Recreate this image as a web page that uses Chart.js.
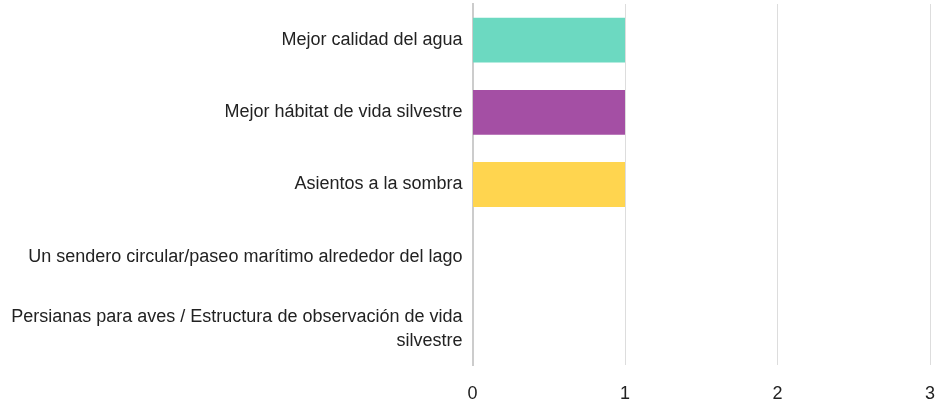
<!DOCTYPE html>
<html>
<head>
<meta charset="utf-8">
<script src="https://cdn.jsdelivr.net/npm/chart.js@4"></script>
<style>
  html, body { margin: 0; padding: 0; background: #ffffff; }
  #wrap { width: 937px; height: 410px; }
</style>
</head>
<body>
<div id="wrap"><canvas id="c" width="937" height="410"></canvas></div>
<script>
const categories = [
  "Mejor calidad del agua",
  "Mejor hábitat de vida silvestre",
  "Asientos a la sombra",
  "Un sendero circular/paseo marítimo alrededor del lago",
  ["Persianas para aves / Estructura de observación de vida", "silvestre"]
];
const values = [1, 1, 1, 0, 0];
const barColors = ["#6CD9C1", "#A44FA4", "#FFD54F", "#6CD9C1", "#A44FA4"];
const xTicks = [0, 1, 2, 3];

new Chart(document.getElementById('c'), {
  type: 'bar',
  data: {
    labels: categories,
    datasets: [{
      data: values,
      backgroundColor: barColors,
      borderWidth: 0,
      categoryPercentage: 0.62,
      barPercentage: 1.0
    }]
  },
  options: {
    indexAxis: 'y',
    responsive: false,
    animation: false,
    layout: { padding: { top: 4, right: 0, bottom: 0, left: 8 } },
    plugins: { legend: { display: false }, tooltip: { enabled: false } },
    scales: {
      x: {
        min: xTicks[0],
        max: xTicks[xTicks.length - 1],
        afterBuildTicks: (axis) => { axis.ticks = xTicks.map(v => ({ value: v })); },
        afterFit: (s) => { s.paddingLeft = 0; s.paddingRight = 7; s.paddingTop = 0; s.paddingBottom = 0; s.height = 45; },
        grid: { color: '#dddddd', drawTicks: false, lineWidth: 1 },
        border: { display: false },
        ticks: { color: '#222222', font: { family: 'Liberation Sans', size: 18 }, padding: 18, maxRotation: 0 }
      },
      y: {
        afterFit: (s) => { s.paddingTop = 0; s.paddingBottom = 0; },
        grid: { display: false, drawTicks: false },
        border: { display: true, color: '#cccccc', width: 2 },
        ticks: { color: '#222222', font: { family: 'Liberation Sans', size: 18, lineHeight: 1.35 }, padding: 10 }
      }
    }
  }
});
</script>
</body>
</html>
